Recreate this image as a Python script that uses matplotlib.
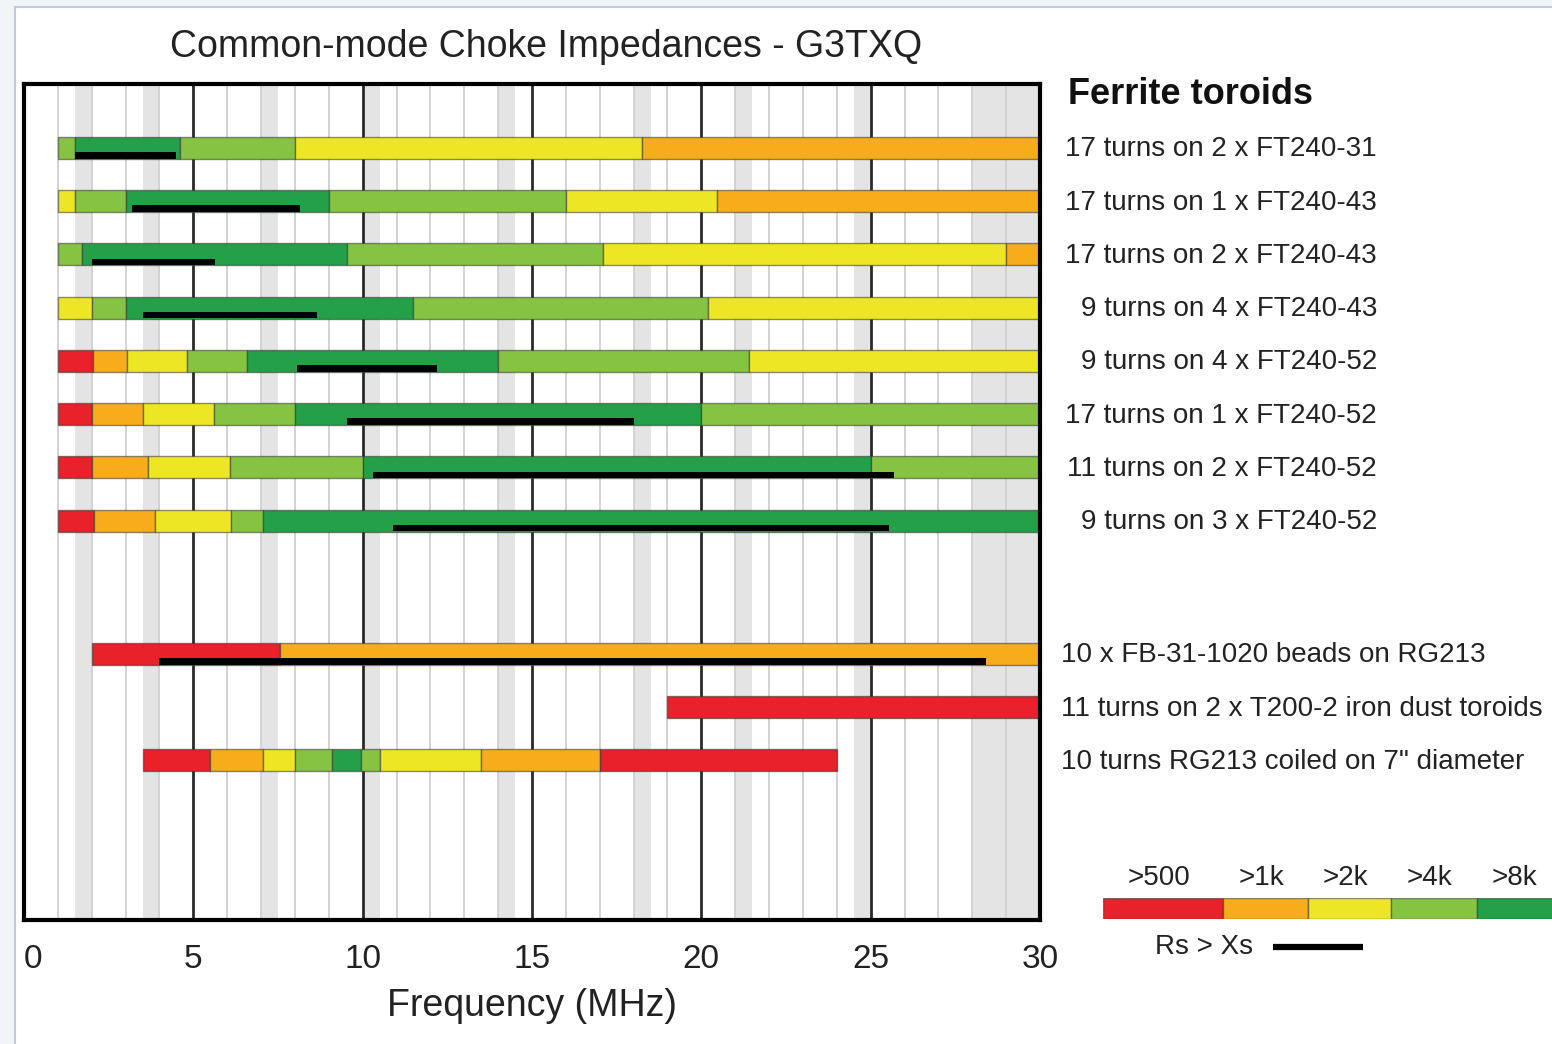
import matplotlib.pyplot as plt
from matplotlib.patches import Rectangle

plt.rcParams["font.family"] = ["Liberation Sans", "DejaVu Sans"]

W, H = 1552, 1044

# impedance classes (ohms) and their colours
level_names = [">500", ">1k", ">2k", ">4k", ">8k"]
level_colors = ["#e8212a", "#f6ac1b", "#ece625", "#86c342", "#23a048"]

choke_labels = [
    "17 turns on 2 x FT240-31",
    "17 turns on 1 x FT240-43",
    "17 turns on 2 x FT240-43",
    "9 turns on 4 x FT240-43",
    "9 turns on 4 x FT240-52",
    "17 turns on 1 x FT240-52",
    "11 turns on 2 x FT240-52",
    "9 turns on 3 x FT240-52",
    "10 x FB-31-1020 beads on RG213",
    "11 turns on 2 x T200-2 iron dust toroids",
    "10 turns RG213 coiled on 7\" diameter",
]
row_pos = [0, 1, 2, 3, 4, 5, 6, 7, 9.5, 10.5, 11.5]
is_ferrite = [True] * 8 + [False] * 3

# band edges in MHz and the impedance class of each band
seg_edges = [
    [1.0, 1.5, 4.6, 8.0, 18.25, 30.0],
    [1.0, 1.5, 3.0, 9.0, 16.0, 20.45, 30.0],
    [1.0, 1.7, 9.55, 17.1, 29.0, 30.0],
    [1.0, 2.0, 3.0, 11.5, 20.2, 30.0],
    [1.0, 2.05, 3.05, 4.8, 6.57, 14.0, 21.4, 30.0],
    [1.0, 2.0, 3.5, 5.6, 8.0, 20.0, 30.0],
    [1.0, 2.0, 3.67, 6.07, 10.0, 25.0, 30.0],
    [1.0, 2.07, 3.87, 6.1, 7.07, 30.0],
    [2.0, 7.57, 30.0],
    [19.0, 30.0],
    [3.5, 5.5, 7.05, 8.0, 9.1, 9.95, 10.5, 13.5, 17.0, 24.0],
]
seg_levels = [
    [3, 4, 3, 2, 1],
    [2, 3, 4, 3, 2, 1],
    [3, 4, 3, 2, 1],
    [2, 3, 4, 3, 2],
    [0, 1, 2, 3, 4, 3, 2],
    [0, 1, 2, 3, 4, 3],
    [0, 1, 2, 3, 4, 3],
    [0, 1, 2, 3, 4],
    [0, 1],
    [0],
    [0, 1, 2, 3, 4, 3, 2, 1, 0],
]
# frequency range where Rs > Xs
rs_gt_xs = [
    (1.5, 4.5),
    (3.2, 8.15),
    (2.0, 5.65),
    (3.5, 8.65),
    (8.05, 12.2),
    (9.55, 18.0),
    (10.3, 25.7),
    (10.9, 25.55),
    (4.0, 28.4),
    None,
    None,
]

# shaded amateur bands
ham_bands = [(1.5, 2.0), (3.5, 4.0), (7.0, 7.5), (10.0, 10.5), (14.0, 14.5),
             (18.0, 18.5), (21.0, 21.5), (24.5, 25.0), (28.0, 30.0)]

x_ticks = [0, 5, 10, 15, 20, 25, 30]


def fx(px):
    return px / W


def fy(py):
    return 1 - py / H


fig = plt.figure(figsize=(W / 100, H / 100), dpi=100, facecolor="#f2f5f8")
fig.patches.append(Rectangle((fx(15), fy(1060)), fx(1600), fy(7) - fy(1060),
                             transform=fig.transFigure, facecolor="white",
                             edgecolor="#c3ccd6", linewidth=1.5, zorder=-10))

ax = fig.add_axes([fx(24), fy(920), fx(1040) - fx(24), fy(84) - fy(920)])
ax.set_xlim(0, 30)
ax.set_ylim(14.5, -1.2)

for lo, hi in ham_bands:
    ax.axvspan(lo, hi, color="#e4e4e4", lw=0, zorder=0)
for f in range(1, 30):
    if f % 5:
        ax.axvline(f, color="#d2d2d2", lw=1.4, zorder=1)
    else:
        ax.axvline(f, color="#2a2a2a", lw=2.0, zorder=1.5)

bar_h = 0.41
for y, edges, levels, rs in zip(row_pos, seg_edges, seg_levels, rs_gt_xs):
    for lo, hi, lv in zip(edges[:-1], edges[1:], levels):
        ax.barh(y, hi - lo, left=lo, height=bar_h, color=level_colors[lv],
                edgecolor=(0.2, 0.2, 0.2, 0.55), linewidth=1.0, zorder=3)
    if rs is not None:
        ax.barh(y + 0.14, rs[1] - rs[0], left=rs[0], height=0.125,
                color="black", linewidth=0, zorder=4)

lab_tr = ax.get_yaxis_transform()
for y, text, ferrite in zip(row_pos, choke_labels, is_ferrite):
    if ferrite:
        ax.text(1.3317, y + 0.03, text, transform=lab_tr, ha="right",
                va="center", fontsize=20, color="#222222", clip_on=False)
    else:
        ax.text(1.0207, y + 0.03, text, transform=lab_tr, ha="left",
                va="center", fontsize=20, color="#222222", clip_on=False)

ax.set_yticks([])
ax.set_xticks(x_ticks)
ax.set_xticklabels([str(t) for t in x_ticks])
ax.get_xticklabels()[0].set_ha("left")
ax.tick_params(axis="x", length=0, labelsize=24, pad=17, labelcolor="#222222")
ax.set_xlabel("Frequency (MHz)", fontsize=27, labelpad=10, color="#222222")
for sp in ax.spines.values():
    sp.set_linewidth(3)
    sp.set_color("black")
    sp.set_zorder(5)

fig.text(fx(546), fy(47), "Common-mode Choke Impedances - G3TXQ",
         ha="center", va="center", fontsize=27, color="#222222")
fig.text(fx(1068), fy(94), "Ferrite toroids", ha="left", va="center",
         fontsize=26, fontweight="bold", color="#111111")

# colour key
key_edges = [0, 120, 205, 288, 374, 457]
lax = fig.add_axes([fx(1103), fy(919), fx(1560) - fx(1103), fy(898) - fy(919)])
lax.set_xlim(0, 457)
lax.set_ylim(0, 1)
lax.axis("off")
for lo, hi, c, name in zip(key_edges[:-1], key_edges[1:], level_colors, level_names):
    lax.barh(0.5, hi - lo, left=lo, height=1, color=c,
             edgecolor=(0.2, 0.2, 0.2, 0.55), linewidth=1.0)
    lax.text((lo + hi) / 2 - 4, 1.95, name, ha="center", va="center",
             fontsize=20, color="#222222")
lax.text(150, -1.33, "Rs > Xs", ha="right", va="center", fontsize=20,
         color="#222222")
lax.plot([170, 260], [-1.33, -1.33], color="black", lw=4.5, clip_on=False,
         solid_capstyle="butt")

fig.savefig("out.png", dpi=100, facecolor=fig.get_facecolor())
